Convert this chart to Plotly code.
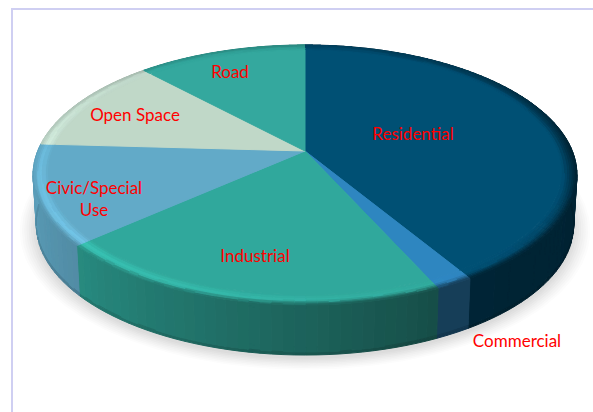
import math
import numpy as np
import plotly.graph_objects as go

categories = ["Residential", "Commercial", "Industrial", "Civic/Special Use", "Open Space", "Road"]
values = [41.3, 1.9, 20.3, 12.4, 12.1, 12.0]
slice_colors = [(1, 80, 117), (46, 134, 193), (48, 168, 155), (98, 170, 200), (191, 215, 201), (51, 168, 158)]
label_texts = ["Residential", "Commercial", "Industrial", "Civic/Special<br>Use", "Open Space", "Road"]
label_x = [413, 517, 255, 94, 135, 230]
label_y = [136, 343, 258, 201, 117, 74]

# perspective disc -> page pixels
CX, CY, A, B, K = 305, 151, 125.6, 267.3, 0.1846
DEPTH = 50
INNER = 0.945


def proj(r, th, h=0.0):
    X, Y = r * math.sin(th), -r * math.cos(th)
    w = 1 - K * Y
    shrink = 1 - 0.012 * h / DEPTH
    return CX + B * X / w * shrink, CY + A * Y / w + h


deg = [0, 90, 155, 230, 270, 360]
side_f = [0.42, 0.42, 0.46, 0.83, 0.95, 0.7]
glow_f = [0.9, 0.66, 1.02, 1.18, 1.12, 0.9]
rim_deg = [0, 40, 90, 155, 230, 270, 330, 360]
rim_f = [0.82, 0.7, 0.42, 0.46, 0.83, 0.95, 0.85, 0.82]


def shade(col, f):
    return tuple(min(255, max(0, round(c * f / 2) * 2)) for c in col)


layers = [{}, {}, {}]


def add(layer, col, pts):
    d = layers[layer].setdefault(col, ([], []))
    d[0].extend([p[0] for p in pts] + [pts[0][0], None])
    d[1].extend([p[1] for p in pts] + [pts[0][1], None])


total = sum(values)
start = 0.0
bounds = []
for v in values:
    bounds.append((start, start + 2 * math.pi * v / total))
    start += 2 * math.pi * v / total

t_prof = [0, 0.2, 0.4, 0.55, 0.7, 0.82, 0.92, 1.0]
for (a0, a1), col in zip(bounds, slice_colors):
    n = max(2, int((a1 - a0) / math.radians(2)))
    ths = np.linspace(a0, a1, n + 1)
    for t0, t1 in zip(ths[:-1], ths[1:]):
        d = math.degrees((t0 + t1) / 2)
        sf = float(np.interp(d, deg, side_f))
        gf = float(np.interp(d, deg, glow_f))
        rf = float(np.interp(d, rim_deg, rim_f))
        # side wall
        hs = [0, 4, 42, 47, DEPTH]
        fs = [1.0, 1.0, 1.0, 0.88]
        for i in range(4):
            c = shade(col, sf * fs[i])
            add(0, c, [proj(1, t0, hs[i]), proj(1, t1, hs[i]), proj(1, t1, hs[i + 1]), proj(1, t0, hs[i + 1])])
        # rounded rim band
        for i in range(len(t_prof) - 1):
            tm = (t_prof[i] + t_prof[i + 1]) / 2
            f = 1 + (gf - 1) * tm / 0.55 if tm < 0.55 else gf + (rf - gf) * (tm - 0.55) / 0.45
            r0 = INNER + (1 - INNER) * t_prof[i]
            r1 = INNER + (1 - INNER) * t_prof[i + 1]
            add(1, shade(col, f), [proj(r0, t0), proj(r0, t1), proj(r1, t1), proj(r1, t0)])
    arc = [proj(INNER, t) for t in ths]
    add(2, shade(col, 1.0), [proj(0, 0)] + arc)

fig = go.Figure()

# soft drop shadow below the disc
ring = np.linspace(0, 2 * math.pi, 241)
shadow_steps = [(1.06, 252), (1.052, 248), (1.044, 244), (1.036, 240), (1.028, 235),
                (1.02, 230), (1.012, 225), (1.004, 220)]
for r, g in shadow_steps:
    pts = [proj(r, t, DEPTH + 3) for t in ring]
    fig.add_trace(go.Scatter(x=[p[0] for p in pts], y=[p[1] for p in pts], mode="lines", fill="toself",
                             fillcolor=f"rgb({g},{g},{g})", line=dict(width=0), hoverinfo="skip"))

for layer in layers:
    for col, (xs, ys) in layer.items():
        c = f"rgb({col[0]},{col[1]},{col[2]})"
        fig.add_trace(go.Scatter(x=xs, y=ys, mode="lines", fill="toself", fillcolor=c,
                                 line=dict(color=c, width=1), hoverinfo="skip"))

fig.add_trace(go.Scatter(x=label_x, y=label_y, mode="text", text=label_texts, textposition="middle center",
                         textfont=dict(family="Lato", size=17, color="#FF0000"), hoverinfo="skip"))

fig.add_shape(type="rect", x0=12, y0=9, x1=700, y1=600, line=dict(color="#CFCFF2", width=2), layer="below")

fig.update_layout(
    width=593, height=412, margin=dict(l=0, r=0, t=0, b=0), showlegend=False,
    paper_bgcolor="white", plot_bgcolor="white",
    xaxis=dict(range=[0, 593], visible=False, fixedrange=True),
    yaxis=dict(range=[412, 0], visible=False, fixedrange=True),
)
fig.write_html("out.html", config={"displayModeBar": False},
               post_script="document.body.style.margin='0';")
